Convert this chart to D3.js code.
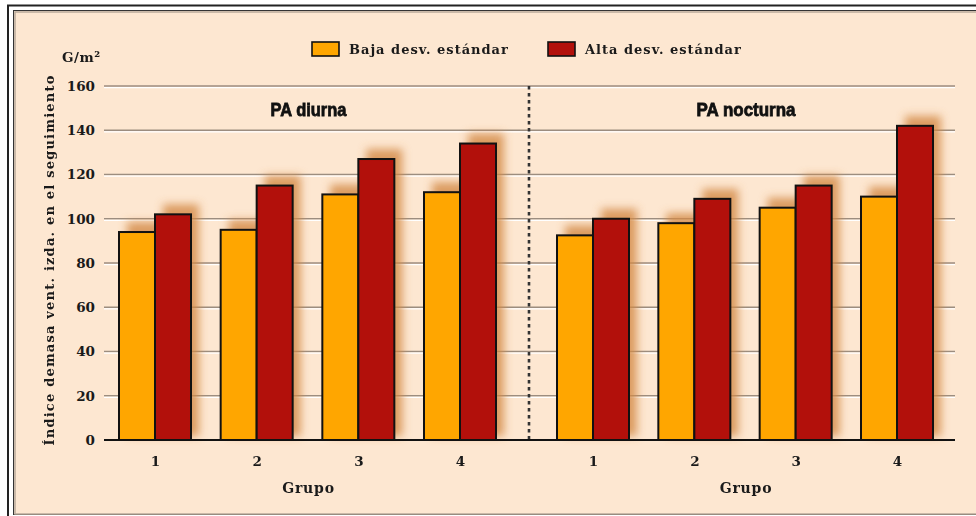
<!DOCTYPE html>
<html><head><meta charset="utf-8">
<script src="https://cdn.jsdelivr.net/npm/d3@7"></script>
<style>
html,body{margin:0;padding:0;background:#fff;}
svg{display:block;}
.serif{font-family:"DejaVu Serif",serif;font-weight:bold;fill:#1a1a1a;}
.cond{font-family:"Liberation Sans Narrow","Arial Narrow","Liberation Sans",sans-serif;font-weight:900;font-stretch:condensed;fill:#111;}
</style></head>
<body>
<script>
const groups = ["1","2","3","4"];
const seriesNames = ["Baja desv. estándar","Alta desv. estándar"];
const panels = ["PA diurna","PA nocturna"];
const diurnaBaja = [94, 95, 111, 112];
const diurnaAlta = [102, 115, 127, 134];
const nocturnaBaja = [92.5, 98, 105, 110];
const nocturnaAlta = [100, 109, 115, 142];
const yTicks = [0,20,40,60,80,100,120,140,160];
const colors = ["#FFA600","#B2100B"];

const W = 976, H = 516;
const svg = d3.select("body").append("svg").attr("width",W).attr("height",H);

const defs = svg.append("defs");
defs.append("filter").attr("id","blur").attr("x","-50%").attr("y","-50%").attr("width","200%").attr("height","200%")
  .append("feGaussianBlur").attr("stdDeviation",4);

// frame
svg.append("rect").attr("x",8).attr("y",5.5).attr("width",W).attr("height",H).attr("fill","none").attr("stroke","#222").attr("stroke-width",2);
svg.append("rect").attr("x",13.5).attr("y",10.5).attr("width",W).attr("height",504).attr("fill","#FDE7D1").attr("stroke","#333").attr("stroke-width",1);
svg.append("rect").attr("x",15).attr("y",12).attr("width",W).attr("height",502).attr("fill","none").attr("stroke","#b9aa9a").attr("stroke-width",1.5);

const y = d3.scaleLinear().domain([0,160]).range([440,86]);
const xLeft = 104, xRight = 955, xDiv = 529;

// gridlines
const grid = svg.append("g");
yTicks.filter(t=>t>0).forEach(t=>{
  grid.append("line").attr("x1",xLeft).attr("x2",xRight).attr("y1",y(t)).attr("y2",y(t)).attr("stroke","#9c8d7f").attr("stroke-width",1.5);
  grid.append("line").attr("x1",xLeft).attr("x2",xRight).attr("y1",y(t)+1.6).attr("y2",y(t)+1.6).attr("stroke","#fff").attr("stroke-width",1.2);
});

// y axis tick labels via d3 axis
const yAxis = svg.append("g").attr("transform",`translate(${xLeft},0)`)
  .call(d3.axisLeft(y).tickValues(yTicks).tickSize(0).tickPadding(9));
yAxis.select(".domain").remove();
yAxis.selectAll("text").attr("class","serif").style("font-size","13.5px").attr("fill","#1a1a1a");

// divider
svg.append("line").attr("x1",xDiv).attr("x2",xDiv).attr("y1",86).attr("y2",440)
  .attr("stroke","#333").attr("stroke-width",2.6).attr("stroke-dasharray","3.5,3.5");

const panelData = [
  {name:panels[0], vals:[diurnaBaja,diurnaAlta], range:[155,460], tl:76},
  {name:panels[1], vals:[nocturnaBaja,nocturnaAlta], range:[593,897], tl:99}
];
const inner = d3.scaleBand().domain(seriesNames).range([-36,36]).padding(0);

const shadowG = svg.append("g").attr("filter","url(#blur)");
const barG = svg.append("g");

panelData.forEach(p=>{
  const x = d3.scalePoint().domain(groups).range(p.range);
  const rows = [];
  groups.forEach((g,i)=>seriesNames.forEach((s,j)=>rows.push({g,s,j,v:p.vals[j][i]})));
  shadowG.selectAll(null).data(rows).join("rect")
    .attr("x",d=>x(d.g)+inner(d.s)+8).attr("y",d=>y(d.v)-10)
    .attr("width",inner.bandwidth()).attr("height",d=>440-y(d.v)+6)
    .attr("fill","#D38A45").attr("opacity",0.8);
  barG.selectAll(null).data(rows).join("rect")
    .attr("x",d=>x(d.g)+inner(d.s)).attr("y",d=>y(d.v))
    .attr("width",inner.bandwidth()).attr("height",d=>440-y(d.v))
    .attr("fill",d=>colors[d.j]).attr("stroke","#111").attr("stroke-width",2);
  // x axis labels
  const xa = svg.append("g").attr("transform","translate(0,440)")
    .call(d3.axisBottom(x).tickSize(0).tickPadding(16));
  xa.select(".domain").remove();
  xa.selectAll("text").attr("class","serif").style("font-size","13.5px").attr("fill","#1a1a1a");
  const cx = (p.range[0]+p.range[1])/2 + 1;
  svg.append("text").attr("class","serif").attr("x",cx).attr("y",493).attr("text-anchor","middle")
    .style("font-size","14px").style("letter-spacing","0.8px").text("Grupo");
  svg.append("text").attr("class","cond").attr("x",cx - p.tl/2).attr("y",116)
    .attr("textLength",p.tl).attr("lengthAdjust","spacingAndGlyphs")
    .attr("stroke","#111").attr("stroke-width",0.8)
    .style("font-size","19px").text(p.name);
});

// baseline
svg.append("line").attr("x1",xLeft).attr("x2",xRight).attr("y1",440).attr("y2",440).attr("stroke","#111").attr("stroke-width",2.2);

// unit + y title
svg.append("text").attr("class","serif").attr("x",62).attr("y",62).style("font-size","13.5px").style("letter-spacing","0.5px").text("G/m²");
svg.append("text").attr("class","serif").attr("transform","translate(54,260) rotate(-90)").attr("text-anchor","middle")
  .style("font-size","13px").style("letter-spacing","1.2px").text("Índice demasa vent. izda. en el seguimiento");

// legend
const legX = [312,548];
seriesNames.forEach((s,j)=>{
  svg.append("rect").attr("x",legX[j]).attr("y",42).attr("width",27).attr("height",14).attr("fill",colors[j]).attr("stroke","#111").attr("stroke-width",1.6);
  svg.append("text").attr("class","serif").attr("x",legX[j]+37).attr("y",54).style("font-size","13px").style("letter-spacing","1px").text(s);
});
</script>
</body></html>
